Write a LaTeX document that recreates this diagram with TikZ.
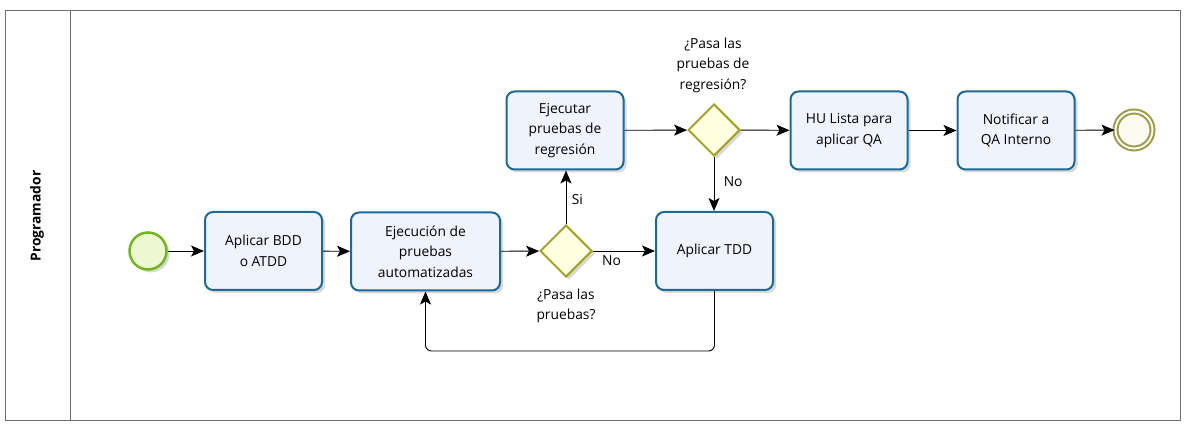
\documentclass[tikz,border=0pt]{standalone}
\usepackage{fontspec}
\setmainfont{Open Sans}
\usetikzlibrary{arrows.meta,shapes.geometric,shadows}
\definecolor{taskborder}{HTML}{1D6A96}
\definecolor{taskfill}{HTML}{EFF3FC}
\definecolor{gwborder}{HTML}{A3A325}
\definecolor{gwfill}{HTML}{FFFFE2}
\definecolor{startborder}{HTML}{73B51E}
\definecolor{startfill}{HTML}{EEF8D0}
\definecolor{endborder}{HTML}{9C9A4A}
\definecolor{endfill}{HTML}{FDFBEF}
\definecolor{poolline}{HTML}{6E6E6E}
\tikzset{
  txt/.style={font=\fontsize{13.8}{20.5}\selectfont, align=center, text=black},
  task/.style={txt, draw=taskborder, fill=taskfill, line width=2pt, rounded corners=8pt,
    minimum width=117pt, minimum height=78pt, inner sep=2pt,
    drop shadow={shadow xshift=3pt, shadow yshift=-3pt, opacity=0.15, fill=black}},
  gateway/.style={diamond, draw=gwborder, fill=gwfill, line width=2pt, minimum width=52pt, minimum height=52pt, inner sep=0pt, aspect=1,
    drop shadow={shadow xshift=3pt, shadow yshift=-3pt, opacity=0.15, fill=black}},
  startev/.style={circle, draw=startborder, fill=startfill, line width=2.5pt, minimum size=37pt, inner sep=0pt,
    drop shadow={shadow xshift=3pt, shadow yshift=-3pt, opacity=0.15, fill=black}},
  endev/.style={circle, draw=endborder, fill=endfill, line width=2pt, minimum size=37pt, inner sep=0pt, double=endfill, double distance=2pt},
  flow/.style={-{Stealth[length=13pt,width=11pt,inset=3pt]}, line width=0.9pt, black},
  lbl/.style={txt}
}
\begin{document}
\begin{tikzpicture}[x=1pt,y=-1pt]
\useasboundingbox (0,0) rectangle (1187,435);
\draw[poolline, line width=1pt] (5,11) rectangle (1180,421);
\draw[poolline, line width=1pt] (70,11) -- (70,421);
\node[txt, rotate=90, font=\fontsize{13.8}{16}\selectfont\bfseries] (lane) at (37,216) {Programador};

\node[startev] (start) at (148,251) {};
\node[task] (t1) at (263.5,251) {Aplicar BDD\\o ATDD};
\node[task, minimum width=149pt] (t2) at (425.5,251.5) {Ejecución de\\pruebas\\automatizadas};
\node[gateway] (g1) at (566,251) {};
\node[lbl] (g1l) at (566,306) {¿Pasa las\\pruebas?};
\node[task] (tdd) at (714.5,251) {Aplicar TDD};
\node[task] (reg) at (565,130.5) {Ejecutar\\pruebas de\\regresión};
\node[gateway] (g2) at (714,130) {};
\node[lbl] (g2l) at (713,65) {¿Pasa las\\pruebas de\\regresión?};
\node[task] (hu) at (849,130.5) {HU Lista para\\aplicar QA};
\node[task] (qa) at (1016,130.5) {Notificar a\\QA Interno};
\node[endev] (end) at (1134,130) {};

\draw[flow] (start) -- (t1);
\draw[flow] (t1) -- (t2);
\draw[flow] (t2) -- (g1);
\draw[flow] (g1) -- node[lbl, pos=0.3, below, yshift=-1pt] (no1) {No} (tdd);
\draw[flow] (g1.north) -- node[lbl, pos=0.45, right, xshift=2pt] (si) {Si} (reg.south -| g1.north);
\draw[flow, rounded corners=6pt] (tdd.south) -- (tdd.south |- 0,351) -- (t2.south |- 0,351) -- (t2.south);
\draw[flow] (reg) -- (g2);
\draw[flow] (g2) -- (hu);
\draw[flow] (g2.south) -- node[lbl, pos=0.45, right, xshift=6pt] (no2) {No} (tdd.north -| g2.south);
\draw[flow] (hu) -- (qa);
\draw[flow] (qa) -- (end);
\end{tikzpicture}
\end{document}
